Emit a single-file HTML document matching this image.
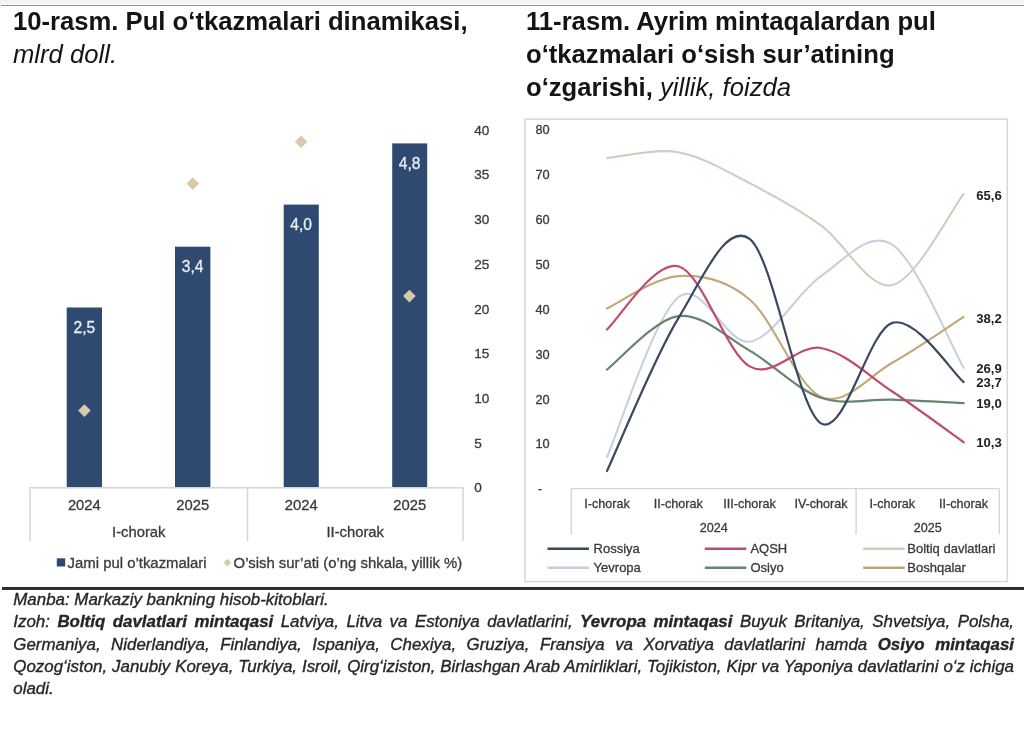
<!DOCTYPE html>
<html lang="uz"><head><meta charset="utf-8"><title>Pul o‘tkazmalari</title>
<style>
html,body{margin:0;padding:0;background:#fff;}
body{filter:blur(0.3px);}
body{width:1024px;height:738px;position:relative;overflow:hidden;font-family:"Liberation Sans", Arial, sans-serif;color:#1a1a1a;}
.topbar{position:absolute;left:0;top:0;width:1024px;height:4px;background:linear-gradient(#f2f2f2,#f8f8f8);}
.topline{position:absolute;left:1px;top:5px;width:1023px;height:1.3px;background:#939393;}
.t{position:absolute;white-space:nowrap;font-size:25.65px;line-height:33.2px;color:#141414;}
.t b{font-weight:bold;}
.t i{font-style:italic;font-weight:normal;}
svg{position:absolute;left:0;top:0;}
svg text{font-family:"Liberation Sans", Arial, sans-serif;}
.rule{position:absolute;left:2px;top:587.3px;width:1022px;height:2.4px;background:#2e2e2e;}
.notes{position:absolute;left:13.3px;top:589.2px;width:1000.7px;font-size:16.9px;line-height:22.2px;font-style:italic;color:#262626;text-align:justify;-webkit-text-stroke:0.35px #262626;}
.notes b{font-weight:bold;}
.notes .l{height:22.2px;white-space:nowrap;}
.notes .j{text-align:justify;text-align-last:justify;white-space:normal;}
</style></head>
<body>
<div class="topbar"></div>
<div class="topline"></div>
<div class="t" style="left:13px;top:4.8px;line-height:33.6px;"><b>10-rasm. Pul o‘tkazmalari dinamikasi,</b><br><i>mlrd doll.</i></div>
<div class="t" style="left:526px;top:4.6px;"><b>11-rasm. Ayrim mintaqalardan pul<br>o‘tkazmalari o‘sish sur’atining<br>o‘zgarishi,</b> <i>yillik, foizda</i></div>
<svg width="1024" height="738" viewBox="0 0 1024 738">
<rect x="66.7" y="307.5" width="35.3" height="179.7" fill="#2f4a71"/>
<text x="84.3" y="333.1" text-anchor="middle" font-size="15.6" fill="#e9eef6" stroke="#e9eef6" stroke-width="0.3">2,5</text>
<rect x="175.0" y="246.7" width="35.4" height="240.5" fill="#2f4a71"/>
<text x="192.7" y="272.3" text-anchor="middle" font-size="15.6" fill="#e9eef6" stroke="#e9eef6" stroke-width="0.3">3,4</text>
<rect x="283.7" y="204.6" width="35.1" height="282.6" fill="#2f4a71"/>
<text x="301.2" y="230.2" text-anchor="middle" font-size="15.6" fill="#e9eef6" stroke="#e9eef6" stroke-width="0.3">4,0</text>
<rect x="392.2" y="143.4" width="35.0" height="343.8" fill="#2f4a71"/>
<text x="409.7" y="169.0" text-anchor="middle" font-size="15.6" fill="#e9eef6" stroke="#e9eef6" stroke-width="0.3">4,8</text>
<path d="M30,487.7 H463 M30,487.2 V541 M247.5,487.2 V541 M463,487.2 V541" stroke="#d6d6d6" stroke-width="1.5" fill="none"/>
<path d="M84.4,404.3 L90.7,410.6 L84.4,416.9 L78.1,410.6 Z" fill="#d8c9ab"/>
<path d="M192.8,177.3 L199.1,183.6 L192.8,189.9 L186.5,183.6 Z" fill="#d8c9ab"/>
<path d="M301.1,135.4 L307.4,141.7 L301.1,148.0 L294.8,141.7 Z" fill="#d8c9ab"/>
<path d="M409.4,289.8 L415.7,296.1 L409.4,302.4 L403.1,296.1 Z" fill="#d8c9ab"/>
<text x="84.35" y="510.2" text-anchor="middle" font-size="14.8" fill="#3a3a3a" stroke="#3a3a3a" stroke-width="0.3">2024</text>
<text x="192.7" y="510.2" text-anchor="middle" font-size="14.8" fill="#3a3a3a" stroke="#3a3a3a" stroke-width="0.3">2025</text>
<text x="301.25" y="510.2" text-anchor="middle" font-size="14.8" fill="#3a3a3a" stroke="#3a3a3a" stroke-width="0.3">2024</text>
<text x="409.7" y="510.2" text-anchor="middle" font-size="14.8" fill="#3a3a3a" stroke="#3a3a3a" stroke-width="0.3">2025</text>
<text x="138.75" y="536.8" text-anchor="middle" font-size="14.8" fill="#3a3a3a" stroke="#3a3a3a" stroke-width="0.3">I-chorak</text>
<text x="355.2" y="536.8" text-anchor="middle" font-size="14.8" fill="#3a3a3a" stroke="#3a3a3a" stroke-width="0.3">II-chorak</text>
<text x="474.3" y="492.3" font-size="13.6" fill="#3a3a3a" stroke="#3a3a3a" stroke-width="0.3">0</text>
<text x="474.3" y="447.6" font-size="13.6" fill="#3a3a3a" stroke="#3a3a3a" stroke-width="0.3">5</text>
<text x="474.3" y="402.9" font-size="13.6" fill="#3a3a3a" stroke="#3a3a3a" stroke-width="0.3">10</text>
<text x="474.3" y="358.2" font-size="13.6" fill="#3a3a3a" stroke="#3a3a3a" stroke-width="0.3">15</text>
<text x="474.3" y="313.5" font-size="13.6" fill="#3a3a3a" stroke="#3a3a3a" stroke-width="0.3">20</text>
<text x="474.3" y="268.8" font-size="13.6" fill="#3a3a3a" stroke="#3a3a3a" stroke-width="0.3">25</text>
<text x="474.3" y="224.1" font-size="13.6" fill="#3a3a3a" stroke="#3a3a3a" stroke-width="0.3">30</text>
<text x="474.3" y="179.4" font-size="13.6" fill="#3a3a3a" stroke="#3a3a3a" stroke-width="0.3">35</text>
<text x="474.3" y="134.7" font-size="13.6" fill="#3a3a3a" stroke="#3a3a3a" stroke-width="0.3">40</text>
<rect x="56.8" y="558.3" width="8.4" height="8.2" fill="#2f4a71"/>
<text x="67.6" y="568" font-size="14.9" fill="#3a3a3a" stroke="#3a3a3a" stroke-width="0.3">Jami pul o’tkazmalari</text>
<path d="M227.4,558.7 L231.3,562.6 L227.4,566.5 L223.5,562.6 Z" fill="#d8c9ab"/>
<text x="233.6" y="568" font-size="14.9" fill="#3a3a3a" stroke="#3a3a3a" stroke-width="0.3">O’sish sur’ati (o’ng shkala, yillik %)</text>
<rect x="525" y="119.2" width="482.3" height="462.4" fill="none" stroke="#d9d9d9" stroke-width="1.6"/>
<text x="549.7" y="448.4" text-anchor="end" font-size="12.8" fill="#3a3a3a" stroke="#3a3a3a" stroke-width="0.3">10</text>
<text x="549.7" y="403.5" text-anchor="end" font-size="12.8" fill="#3a3a3a" stroke="#3a3a3a" stroke-width="0.3">20</text>
<text x="549.7" y="358.6" text-anchor="end" font-size="12.8" fill="#3a3a3a" stroke="#3a3a3a" stroke-width="0.3">30</text>
<text x="549.7" y="313.7" text-anchor="end" font-size="12.8" fill="#3a3a3a" stroke="#3a3a3a" stroke-width="0.3">40</text>
<text x="549.7" y="268.8" text-anchor="end" font-size="12.8" fill="#3a3a3a" stroke="#3a3a3a" stroke-width="0.3">50</text>
<text x="549.7" y="223.9" text-anchor="end" font-size="12.8" fill="#3a3a3a" stroke="#3a3a3a" stroke-width="0.3">60</text>
<text x="549.7" y="179.0" text-anchor="end" font-size="12.8" fill="#3a3a3a" stroke="#3a3a3a" stroke-width="0.3">70</text>
<text x="549.7" y="134.1" text-anchor="end" font-size="12.8" fill="#3a3a3a" stroke="#3a3a3a" stroke-width="0.3">80</text>
<text x="540" y="493.0" text-anchor="middle" font-size="12.6" fill="#3a3a3a" stroke="#3a3a3a" stroke-width="0.3">-</text>
<path d="M571.3,488.6 H999.3 M571.3,488.6 V534.5 M856.1,488.6 V534.5 M999.3,488.6 V534.5" stroke="#d6d6d6" stroke-width="1.4" fill="none"/>
<text x="607.0" y="507.6" text-anchor="middle" font-size="12.6" fill="#3a3a3a" stroke="#3a3a3a" stroke-width="0.3">I-chorak</text>
<text x="678.3" y="507.6" text-anchor="middle" font-size="12.6" fill="#3a3a3a" stroke="#3a3a3a" stroke-width="0.3">II-chorak</text>
<text x="749.6" y="507.6" text-anchor="middle" font-size="12.6" fill="#3a3a3a" stroke="#3a3a3a" stroke-width="0.3">III-chorak</text>
<text x="821.0" y="507.6" text-anchor="middle" font-size="12.6" fill="#3a3a3a" stroke="#3a3a3a" stroke-width="0.3">IV-chorak</text>
<text x="892.3" y="507.6" text-anchor="middle" font-size="12.6" fill="#3a3a3a" stroke="#3a3a3a" stroke-width="0.3">I-chorak</text>
<text x="963.6" y="507.6" text-anchor="middle" font-size="12.6" fill="#3a3a3a" stroke="#3a3a3a" stroke-width="0.3">II-chorak</text>
<text x="713.7" y="531.5" text-anchor="middle" font-size="12.6" fill="#3a3a3a" stroke="#3a3a3a" stroke-width="0.3">2024</text>
<text x="927.7" y="531.5" text-anchor="middle" font-size="12.6" fill="#3a3a3a" stroke="#3a3a3a" stroke-width="0.3">2025</text>
<path d="M606.97,158.04 C618.86,157.06 654.52,148.01 678.30,152.20 C702.08,156.39 725.86,170.98 749.63,183.18 C773.41,195.38 797.19,208.40 820.97,225.39 C844.74,242.37 868.52,290.34 892.30,285.10 C916.08,279.86 951.74,209.15 963.63,193.96" stroke="#d3cabb" stroke-width="2.0" fill="none" stroke-linecap="round"/>
<path d="M606.97,457.07 C618.86,430.43 654.52,316.46 678.30,297.23 C702.08,277.99 725.86,345.19 749.63,341.68 C773.41,338.16 797.19,292.29 820.97,276.12 C844.74,259.96 868.52,229.43 892.30,244.69 C916.08,259.96 951.74,347.21 963.63,367.72" stroke="#c8d0df" stroke-width="2.1" fill="none" stroke-linecap="round"/>
<path d="M606.97,308.45 C618.86,303.06 654.52,277.62 678.30,276.12 C702.08,274.63 725.86,279.34 749.63,299.47 C773.41,319.60 797.19,386.35 820.97,396.90 C844.74,407.46 868.52,376.10 892.30,362.78 C916.08,349.46 951.74,324.61 963.63,316.98" stroke="#c2a878" stroke-width="2.1" fill="none" stroke-linecap="round"/>
<path d="M606.97,369.51 C618.86,360.61 654.52,319.23 678.30,316.08 C702.08,312.94 725.86,337.04 749.63,350.66 C773.41,364.28 797.19,389.65 820.97,397.80 C844.74,405.96 868.52,398.70 892.30,399.60 C916.08,400.50 951.74,402.59 963.63,403.19" stroke="#678470" stroke-width="2.2" fill="none" stroke-linecap="round"/>
<path d="M606.97,329.55 C618.86,319.00 654.52,260.11 678.30,266.25 C702.08,272.38 725.86,352.75 749.63,366.37 C773.41,379.99 797.19,343.77 820.97,347.96 C844.74,352.15 868.52,375.80 892.30,391.52 C916.08,407.23 951.74,433.80 963.63,442.25" stroke="#bf4b73" stroke-width="2.2" fill="none" stroke-linecap="round"/>
<path d="M606.97,470.99 C618.86,445.55 654.52,357.02 678.30,318.33 C702.08,279.64 725.86,221.34 749.63,238.86 C773.41,256.37 797.19,409.40 820.97,423.39 C844.74,437.39 868.52,329.70 892.30,322.82 C916.08,315.93 951.74,372.21 963.63,382.09" stroke="#394962" stroke-width="2.2" fill="none" stroke-linecap="round"/>
<text x="976.2" y="199.6" font-size="13.1" font-weight="bold" fill="#1e1e1e">65,6</text>
<text x="976.2" y="322.6" font-size="13.1" font-weight="bold" fill="#1e1e1e">38,2</text>
<text x="976.2" y="372.7" font-size="13.1" font-weight="bold" fill="#1e1e1e">26,9</text>
<text x="976.2" y="387.4" font-size="13.1" font-weight="bold" fill="#1e1e1e">23,7</text>
<text x="976.2" y="408.3" font-size="13.1" font-weight="bold" fill="#1e1e1e">19,0</text>
<text x="976.2" y="446.8" font-size="13.1" font-weight="bold" fill="#1e1e1e">10,3</text>
<path d="M547.5,548.7 H589.0" stroke="#394962" stroke-width="2.6" stroke-linecap="butt"/>
<text x="593.6" y="553.4" font-size="13" fill="#3a3a3a" stroke="#3a3a3a" stroke-width="0.3">Rossiya</text>
<path d="M547.5,567.7 H589.0" stroke="#c4cddd" stroke-width="2.6" stroke-linecap="butt"/>
<text x="593.6" y="572.4" font-size="13" fill="#3a3a3a" stroke="#3a3a3a" stroke-width="0.3">Yevropa</text>
<path d="M704.8,548.7 H746.3" stroke="#bf4b73" stroke-width="2.6" stroke-linecap="butt"/>
<text x="750.4" y="553.4" font-size="13" fill="#3a3a3a" stroke="#3a3a3a" stroke-width="0.3">AQSH</text>
<path d="M704.8,567.7 H746.3" stroke="#678470" stroke-width="2.6" stroke-linecap="butt"/>
<text x="750.4" y="572.4" font-size="13" fill="#3a3a3a" stroke="#3a3a3a" stroke-width="0.3">Osiyo</text>
<path d="M863.2,548.7 H904.7" stroke="#d6cbb9" stroke-width="2.6" stroke-linecap="butt"/>
<text x="907.3" y="553.4" font-size="13" fill="#3a3a3a" stroke="#3a3a3a" stroke-width="0.3">Boltiq davlatlari</text>
<path d="M863.2,567.7 H904.7" stroke="#c0a574" stroke-width="2.6" stroke-linecap="butt"/>
<text x="907.3" y="572.4" font-size="13" fill="#3a3a3a" stroke="#3a3a3a" stroke-width="0.3">Boshqalar</text>
</svg>
<div class="rule"></div>
<div class="notes"><div class="l">Manba: Markaziy bankning hisob-kitoblari.</div><div class="l j">Izoh: <b>Boltiq davlatlari mintaqasi</b> Latviya, Litva va Estoniya davlatlarini, <b>Yevropa mintaqasi</b> Buyuk Britaniya, Shvetsiya, Polsha,</div><div class="l j">Germaniya, Niderlandiya, Finlandiya, Ispaniya, Chexiya, Gruziya, Fransiya va Xorvatiya davlatlarini hamda <b>Osiyo mintaqasi</b></div><div class="l j">Qozog‘iston, Janubiy Koreya, Turkiya, Isroil, Qirg‘iziston, Birlashgan Arab Amirliklari, Tojikiston, Kipr va Yaponiya davlatlarini o‘z ichiga</div><div class="l">oladi.</div></div>
</body></html>
